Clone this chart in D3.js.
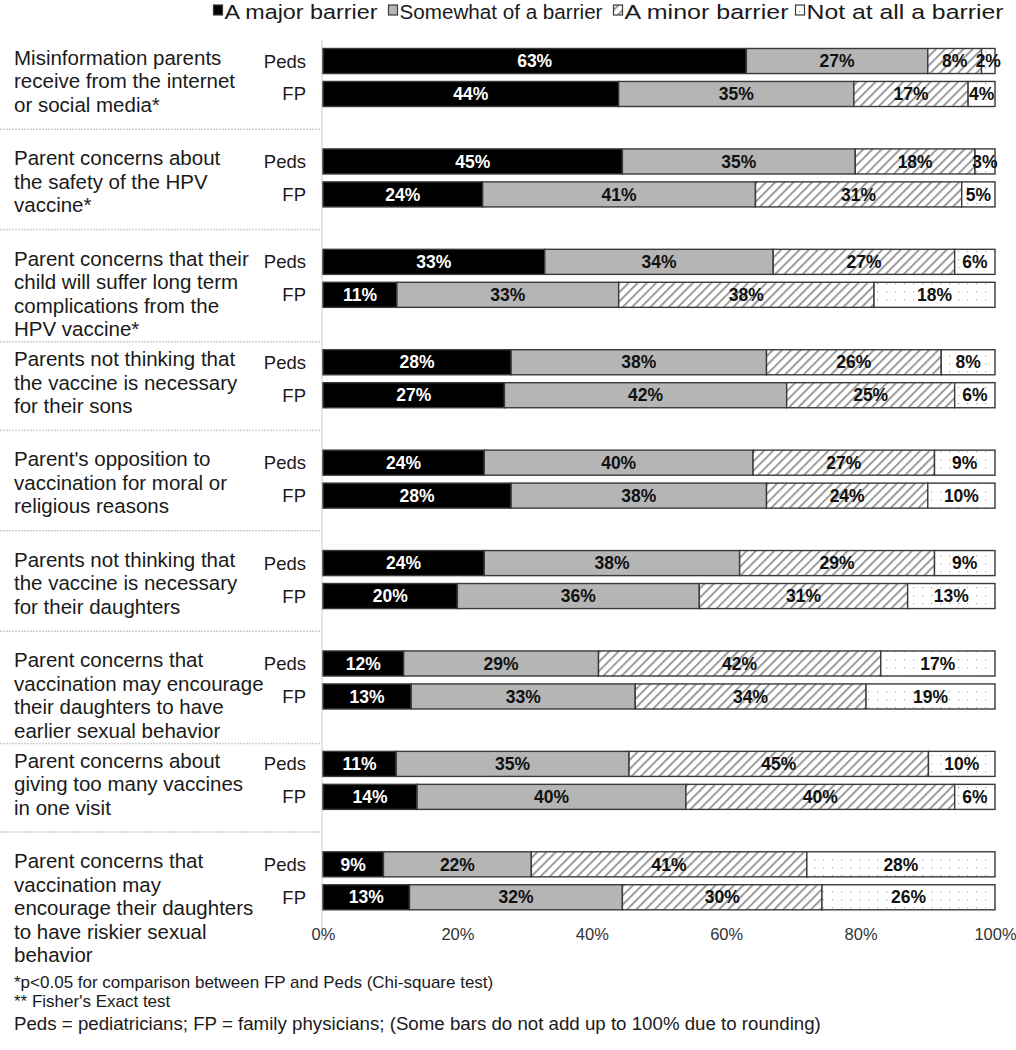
<!DOCTYPE html>
<html>
<head>
<meta charset="utf-8">
<script src="https://cdn.jsdelivr.net/npm/d3@7"></script>
<style>
  html, body { margin: 0; padding: 0; background: #fff; }
  svg { display: block; font-family: "Liberation Sans", Arial, sans-serif; }
</style>
</head>
<body>
<svg id="chart" width="1016" height="1050"></svg>
<script>
// ---------------- DATA ----------------
const categories = [
  ["Misinformation parents", "receive from the internet", "or social media*"],
  ["Parent concerns about", "the safety of the HPV", "vaccine*"],
  ["Parent concerns that their", "child will suffer long term", "complications from the", "HPV vaccine*"],
  ["Parents not thinking that", "the vaccine is necessary", "for their sons"],
  ["Parent's opposition to", "vaccination for moral or", "religious reasons"],
  ["Parents not thinking that", "the vaccine is necessary", "for their daughters"],
  ["Parent concerns that", "vaccination may encourage", "their daughters to have", "earlier sexual behavior"],
  ["Parent concerns about", "giving too many vaccines", "in one visit"],
  ["Parent concerns that", "vaccination may", "encourage their daughters", "to have riskier sexual", "behavior"]
];
const groups = ["Peds", "FP"];
const seriesNames = ["A major barrier", "Somewhat of a barrier", "A minor barrier", "Not at all a barrier"];
// each entry: [Peds, FP] percentages
const majorBarrier    = [[63,44],[45,24],[33,11],[28,27],[24,28],[24,20],[12,13],[11,14],[9,13]];
const somewhatBarrier = [[27,35],[35,41],[34,33],[38,42],[40,38],[38,36],[29,33],[35,40],[22,32]];
const minorBarrier    = [[8,17],[18,31],[27,38],[26,25],[27,24],[29,31],[42,34],[45,40],[41,30]];
const notBarrier      = [[2,4],[3,5],[6,18],[8,6],[9,10],[9,13],[17,19],[10,6],[28,26]];
const tickValues = [0, 0.2, 0.4, 0.6, 0.8, 1.0];
const footnotes = [
  "*p<0.05 for comparison between FP and Peds (Chi-square test)",
  "** Fisher's Exact test",
  "Peds = pediatricians; FP = family physicians; (Some bars do not add up to 100% due to rounding)"
];

// ---------------- BUILD ROWS ----------------
const keys = ["major", "somewhat", "minor", "not"];
const rows = [];
categories.forEach((c, i) => {
  groups.forEach((g, j) => {
    rows.push({
      cat: i, group: g,
      major: majorBarrier[i][j], somewhat: somewhatBarrier[i][j],
      minor: minorBarrier[i][j], not: notBarrier[i][j]
    });
  });
});
const stacked = d3.stack().keys(keys).offset(d3.stackOffsetExpand)(rows);

// ---------------- LAYOUT ----------------
const svg = d3.select("#chart");
const x = d3.scaleLinear().domain([0, 1]).range([323, 995]);
const yCat = d3.scaleBand().domain(d3.range(categories.length)).range([27.3, 931]).paddingInner(0).paddingOuter(0);
const yGrp = d3.scaleBand().domain(groups).range([-30, 30]).paddingInner(0.24).paddingOuter(0.03);
const barY = d => yCat(d.data ? d.data.cat : d.cat) + yCat.bandwidth() / 2 + yGrp(d.data ? d.data.group : d.group);
const barH = yGrp.bandwidth();

// ---------------- PATTERNS ----------------
const defs = svg.append("defs");
const hatch = defs.append("pattern").attr("id", "hatch").attr("patternUnits", "userSpaceOnUse")
  .attr("width", 6.5).attr("height", 6.5).attr("patternTransform", "rotate(45)");
hatch.append("rect").attr("width", 6.5).attr("height", 6.5).attr("fill", "#fff");
hatch.append("line").attr("x1", 1).attr("y1", 0).attr("x2", 1).attr("y2", 6.5)
  .attr("stroke", "#9c9c9c").attr("stroke-width", 2);
const dots = defs.append("pattern").attr("id", "dots").attr("patternUnits", "userSpaceOnUse")
  .attr("width", 9).attr("height", 8);
dots.append("rect").attr("width", 9).attr("height", 8).attr("fill", "#fff");
dots.append("rect").attr("x", 4).attr("y", 3).attr("width", 1.2).attr("height", 1.2).attr("fill", "#aaa");

const fills = { major: "#000", somewhat: "#b5b5b5", minor: "url(#hatch)", not: "url(#dots)" };
const labelColor = { major: "#fff", somewhat: "#111", minor: "#111", not: "#111" };

// ---------------- LEFT GRID ----------------
const lineH = 23.5;
const firstLineOffset = -20;
const catLineCenter = (i, k) => yCat(i) + yCat.bandwidth() / 2 + firstLineOffset + k * lineH;

// separators between category blocks
const seps = d3.range(1, categories.length).map(i => {
  const prevLast = catLineCenter(i - 1, categories[i - 1].length - 1);
  const nextFirst = catLineCenter(i, 0);
  return (prevLast + nextFirst) / 2 - 2;
});
svg.append("g").selectAll("line").data(seps).join("line")
  .attr("x1", 0).attr("x2", 322).attr("y1", d => d).attr("y2", d => d)
  .attr("stroke", "#cfcfcf").attr("stroke-width", 1.5).attr("stroke-dasharray", "2,1");

svg.append("line").attr("x1", 322).attr("x2", 322).attr("y1", 40).attr("y2", 940)
  .attr("stroke", "#dcdcdc").attr("stroke-width", 1.5);

// category labels
const catG = svg.append("g").attr("font-size", 20.5).attr("fill", "#1a1a1a");
categories.forEach((lines, i) => {
  catG.append("text")
    .selectAll("tspan").data(lines).join("tspan")
    .attr("x", 14).attr("y", (d, k) => catLineCenter(i, k) + 7.3)
    .text(d => d);
});

// group labels
svg.append("g").attr("font-size", 18.5).attr("fill", "#1a1a1a").attr("text-anchor", "end")
  .selectAll("text").data(rows).join("text")
  .attr("x", 306).attr("y", d => barY(d) + barH / 2 + 6.5)
  .text(d => d.group);

// ---------------- BARS ----------------
const layer = svg.append("g").selectAll("g").data(stacked).join("g");
layer.selectAll("rect").data(s => s.map(d => Object.assign(d, { key: s.key }))).join("rect")
  .attr("x", d => x(d[0]))
  .attr("width", d => x(d[1]) - x(d[0]))
  .attr("y", d => barY(d))
  .attr("height", barH)
  .attr("fill", d => fills[d.key])
  .attr("stroke", "#3a3a3a").attr("stroke-width", 1.4);

layer.selectAll("text").data(s => s).join("text")
  .attr("x", d => (x(d[0]) + x(d[1])) / 2)
  .attr("y", d => barY(d) + barH / 2 + 6.2)
  .attr("text-anchor", "middle")
  .attr("font-size", 17.5).attr("font-weight", "bold")
  .attr("fill", d => labelColor[d.key])
  .text(d => d.data[d.key] + "%");

// ---------------- AXIS ----------------
const axis = d3.axisBottom(x).tickValues(tickValues).tickFormat(d3.format(".0%")).tickSize(0).tickPadding(0);
const axG = svg.append("g").attr("transform", "translate(0,927)").call(axis);
axG.select(".domain").remove();
axG.selectAll("text").attr("font-size", 16.5).attr("fill", "#333").attr("font-family", "Liberation Sans, Arial, sans-serif")
  .attr("dy", "0.8em");

// ---------------- LEGEND ----------------
const legendFills = ["#000", "#b5b5b5", "url(#hatch)", "url(#dots)"];
const legG = svg.append("g").attr("font-size", 20.5).attr("fill", "#1a1a1a");
const legStarts = [213, 388, 613, 795];
const legWidths = [153, 203, 164, 197];
seriesNames.forEach((name, i) => {
  const g = legG.append("g").attr("transform", `translate(${legStarts[i]},0)`);
  g.append("rect").attr("x", 0.5).attr("y", 5).attr("width", 9).attr("height", 10)
    .attr("fill", legendFills[i]).attr("stroke", "#3a3a3a").attr("stroke-width", 1.2);
  g.append("text").attr("x", 11.5).attr("y", 18.5)
    .attr("textLength", legWidths[i]).attr("lengthAdjust", "spacingAndGlyphs")
    .text(name);
});

// ---------------- FOOTNOTES ----------------
const fnSizes = [17, 17, 18.7];
const fnY = [988, 1007, 1030];
svg.append("g").attr("fill", "#1a1a1a")
  .selectAll("text").data(footnotes).join("text")
  .attr("x", 14).attr("y", (d, i) => fnY[i]).attr("font-size", (d, i) => fnSizes[i])
  .text(d => d);
</script>
</body>
</html>
